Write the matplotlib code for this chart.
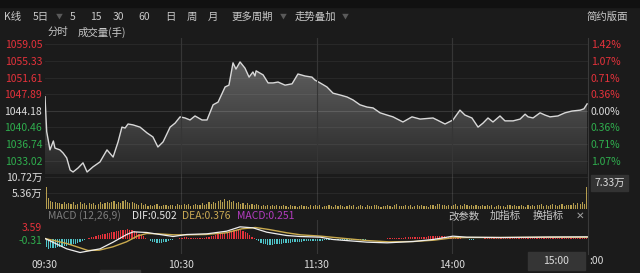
import numpy as np
import matplotlib
matplotlib.use("Agg")
import matplotlib.pyplot as plt
from matplotlib.patches import Rectangle, Polygon

plt.rcParams['font.family'] = ['Noto Sans CJK SC', 'DejaVu Sans']

# ── data ──────────────────────────────────────────────────────────────────────
PRE_CLOSE = 1044.18
price_ticks = [1033.02, 1036.74, 1040.46, 1044.18, 1047.89, 1051.61, 1055.33, 1059.05]
pct_labels  = ["1.07%", "0.71%", "0.36%", "0.00%", "0.36%", "0.71%", "1.07%", "1.42%"]

# minutes since 09:30 (lunch break removed) and index level
price_min = [0, 0.75, 2.2, 3.7, 4.4, 6.6, 8.0, 9.6, 11.1, 12.4, 14.6, 16.8, 18.6, 21.2,
             24.3, 27.4, 30.1, 32.3, 34.0, 35.4, 36.7, 38.9, 42.0, 45.1, 47.7, 49.9,
             52.2, 55.3, 57.5, 59.7, 61.9, 64.1, 66.3, 69.4, 71.6, 74.3, 76.5, 79.6,
             81.3, 83.1, 84.4, 86.2, 88.4, 90.2, 91.9, 92.8, 93.3, 96.4, 98.6, 100.8,
             103.0, 106.1, 109.2, 111.8, 114.9, 118.0, 119.3, 121.6, 124.6, 127.3,
             130.4, 133.5, 136.1, 139.2, 142.3, 145.0, 148.1, 151.2, 153.8, 158.2,
             162.2, 165.8, 171.5, 173.3, 176.8, 180.3, 183.4, 185.6, 188.7, 191.4,
             193.6, 195.8, 198.0, 201.1, 203.3, 206.9, 210.0, 212.2, 213.5, 215.7,
             218.8, 221.0, 223.2, 226.7, 229.8, 232.9, 236.5, 238.2, 239.6]
price_val = [1047.3, 1039.5, 1035.4, 1037.4, 1035.8, 1035.4, 1034.7, 1033.6, 1030.9,
             1030.45, 1031.35, 1032.5, 1030.45, 1031.6, 1032.7, 1035.4, 1033.8, 1037.2,
             1040.5, 1040.3, 1041.2, 1041.0, 1040.5, 1039.2, 1038.3, 1036.05, 1037.2,
             1040.5, 1041.4, 1042.8, 1042.55, 1042.1, 1043.0, 1042.1, 1042.1, 1045.5,
             1046.1, 1049.5, 1049.9, 1054.9, 1053.5, 1055.1, 1053.7, 1051.7, 1052.85,
             1051.95, 1053.1, 1052.2, 1050.4, 1050.4, 1050.6, 1049.9, 1050.2, 1052.4,
             1051.95, 1051.7, 1051.05, 1050.4, 1049.5, 1048.1, 1047.7, 1047.25, 1046.6,
             1045.5, 1045.0, 1044.8, 1043.7, 1043.2, 1042.8, 1041.65, 1042.8, 1042.3,
             1042.55, 1042.1, 1041.2, 1042.1, 1044.3, 1043.2, 1042.55, 1040.5, 1041.4,
             1042.55, 1041.65, 1043.0, 1041.9, 1041.9, 1042.3, 1043.4, 1042.8, 1042.55,
             1043.7, 1043.2, 1042.8, 1043.0, 1043.7, 1044.1, 1044.3, 1044.6, 1045.7]

# volume per minute, 万手
volume = [7.3, 3.6, 2.6, 2.2, 2.4, 1.9, 2.1, 1.8, 2.3, 1.6, 2.0, 1.7, 2.2, 1.5, 1.8, 2.4, 1.6, 1.9, 1.4, 2.0,
          1.7, 2.1, 1.5, 1.8, 2.3, 1.6, 2.0, 2.5, 1.9, 2.2, 2.8, 1.8, 2.4, 2.0, 2.6, 2.9, 2.2, 1.9, 2.5, 2.1,
          1.8, 1.5, 1.9, 1.2, 1.6, 1.1, 1.4, 1.0, 1.3, 1.6, 1.1, 0.9, 1.4, 1.2, 1.0, 1.5, 1.3, 1.1, 1.7, 1.2,
          1.5, 1.8, 1.3, 1.6, 1.1, 1.4, 1.7, 1.2, 1.5, 1.9, 1.3, 1.6, 2.2, 1.7, 2.5, 2.0, 2.8, 3.1, 2.4, 3.3,
          2.6, 3.0, 2.2, 2.7, 1.9, 2.4, 1.8, 2.1, 1.5, 1.9, 1.4, 1.7, 1.2, 1.6, 1.3, 1.0, 1.4, 1.1, 1.2, 0.9,
          1.3, 1.0, 1.2, 0.9, 1.1, 1.4, 1.0, 0.8, 1.2, 0.9, 1.1, 0.8, 1.0, 1.3, 0.9, 1.1, 0.8, 1.2, 1.0, 1.4,
          1.0, 1.3, 0.8, 1.1, 0.9, 1.4, 1.0, 0.8, 1.2, 0.9, 1.5, 1.1, 0.8, 1.0, 1.3, 0.9, 1.2, 0.8, 1.1, 1.4,
          1.0, 0.8, 1.3, 1.1, 0.9, 1.2, 1.5, 1.0, 0.8, 1.1, 0.9, 1.3, 1.0, 0.8, 1.2, 1.6, 1.1, 0.9, 1.0, 1.3,
          0.9, 1.2, 0.8, 1.1, 1.5, 1.0, 1.3, 0.9, 1.1, 0.8, 1.2, 1.4, 1.0, 1.6, 1.8, 1.2, 1.5, 1.1, 1.3, 0.9,
          1.2, 1.6, 1.0, 1.4, 1.1, 1.7, 1.3, 0.9, 1.2, 1.0, 1.5, 1.1, 0.9, 1.3, 1.0, 1.4, 1.1, 1.2, 0.8, 1.0,
          1.3, 0.9, 1.1, 0.8, 1.2, 1.5, 1.0, 1.3, 0.9, 1.1, 1.4, 1.0, 0.8, 1.2, 1.1, 1.5, 1.0, 1.3, 1.2, 1.6,
          1.1, 1.4, 1.0, 1.3, 1.6, 1.2, 1.0, 1.4, 1.7, 1.1, 1.3, 1.5, 1.2, 1.9, 1.4, 2.1, 1.6, 2.3, 1.8, 7.33]
vol_ticks = [5.36, 10.72]

# MACD histogram per minute
macd_hist = [-2.6, -3.0, -2.9, -2.8, -2.7, -2.6, -2.5, -2.4, -2.3, -2.2, -2.0, -1.9, -1.7, -1.5, -1.3, -1.1, -0.8, -0.5, -0.2, 0.2,
             0.4, 0.6, 0.8, 1.0, 1.1, 1.3, 1.5, 1.6, 1.8, 1.9, 2.0, 2.2, 2.3, 2.5, 2.6, 2.7, 2.8, 2.7, 2.5, 2.2,
             1.9, 1.5, 1.1, 0.7, 0.3, -0.2, -0.6, -0.9, -1.1, -1.3, -1.3, -1.2, -1.0, -0.9, -0.7, -0.5, -0.4, -0.2, -0.1, 0.1,
             0.3, 0.4, 0.4, 0.3, 0.3, 0.2, 0.2, 0.1, 0.2, 0.3, 0.3, 0.4, 0.5, 0.7, 0.9, 1.1, 1.3, 1.5, 1.6, 1.8,
             2.0, 2.2, 2.4, 2.6, 2.7, 2.7, 2.6, 2.4, 2.0, 1.6, 1.1, 0.6, 0.1, -0.4, -0.8, -1.2, -1.5, -1.7, -1.8, -1.8,
             -1.8, -1.7, -1.7, -1.6, -1.5, -1.4, -1.3, -1.3, -1.2, -1.1, -1.0, -1.0, -0.9, -0.9, -0.8, -0.8, -0.7, -0.7, -0.7, -0.6,
             -0.6, -0.6, -0.6, -0.5, -0.5, -0.5, -0.5, -0.5, -0.5, -0.4, -0.4, -0.4, -0.4, -0.4, -0.4, -0.3, -0.3, -0.3, -0.3, -0.3,
             -0.3, -0.3, -0.2, -0.2, -0.2, -0.2, -0.2, -0.1, -0.1, -0.1, -0.1, 0.1, 0.1, 0.2, 0.2, 0.2, 0.3, 0.3, 0.3, 0.4,
             0.4, 0.4, 0.4, 0.5, 0.5, 0.5, 0.6, 0.6, 0.6, 0.7, 0.7, 0.7, 0.8, 0.8, 0.8, 0.8, 0.7, 0.6, 0.6, 0.5,
             0.4, 0.3, 0.2, 0.1, -0.1, -0.2, -0.2, -0.3, -0.3, -0.3, -0.2, -0.2, -0.1, -0.1, 0.1, 0.1, 0.1, 0.1, 0.1, 0.1,
             0.1, 0.1, 0.1, 0.1, 0.1, 0.2, 0.2, 0.2, 0.2, 0.2, 0.2, 0.2, 0.2, 0.2, 0.2, 0.2, 0.2, 0.2, 0.2, 0.2,
             0.2, 0.2, 0.2, 0.2, 0.2, 0.2, 0.2, 0.2, 0.2, 0.2, 0.2, 0.2, 0.2, 0.2, 0.2, 0.3, 0.3, 0.3, 0.3, 0.251]

dif_min = [0, 9.6, 15.5, 24.3, 30.1, 36.1, 39.0, 45.0, 50.8, 56.6, 62.6, 71.5, 80.3, 86.2,
           91.9, 98.0, 106.8, 112.7, 121.6, 127.3, 142.3, 151.2, 162.7, 171.5, 180.3,
           186.5, 201.1, 223.2, 240]
dif_val = [0.0, -3.1, -4.2, -3.1, -1.1, 1.2, 2.0, 1.8, 1.2, 0.6, 1.2, 1.4, 2.2, 3.5,
           3.2, 1.9, 0.9, 0.6, 0.4, -0.3, -1.1, -1.3, -0.9, -0.3, 0.7, 0.4, 0.3, 0.45, 0.502]
dea_min = [0, 9.6, 15.5, 19.0, 24.0, 30.0, 36.0, 41.0, 45.0, 50.0, 57.0, 63.0, 71.0, 80.0,
           87.0, 93.0, 99.0, 107.0, 113.0, 122.0, 128.0, 142.0, 152.0, 163.0, 172.0,
           180.0, 187.0, 201.0, 223.0, 240]
dea_val = [0.0, -1.5, -2.8, -3.6, -3.5, -2.5, -1.0, 0.8, 1.5, 1.4, 1.1, 1.1, 1.2, 1.7,
           2.9, 3.3, 2.7, 1.7, 1.1, 0.7, 0.3, -0.6, -1.0, -0.9, -0.5, 0.2, 0.3, 0.3, 0.38, 0.376]
macd_ticks = [-0.31, 3.59]

time_ticks  = [0, 60, 120, 180]
time_labels = ["09:30", "10:30", "11:30", "14:00"]

# ── style ─────────────────────────────────────────────────────────────────────
BG    = "#1b1b1b"
VGRID = "#363636"
RED   = "#e5323b"
GREEN = "#2fae4e"
WHITE = "#dcdcdc"
GOLD  = "#b59d4e"
CYAN  = "#4fc4c8"
FS    = 7.5

W, H = 640, 273
fig = plt.figure(figsize=(W / 100, H / 100), dpi=100, facecolor=BG)


def rect(x0, y0, x1, y1):
    return [x0 / W, 1 - y1 / H, (x1 - x0) / W, (y1 - y0) / H]


def style(ax):
    ax.set_facecolor("none")
    for s in ax.spines.values():
        s.set_visible(False)
    ax.tick_params(length=0, labelsize=FS, pad=2)
    ax.set_xlim(0, 240)
    for m in time_ticks[1:]:
        ax.axvline(m, color=VGRID, lw=0.8, zorder=0)
    ax.set_xticks([])


# top toolbar
fig.patches.append(Rectangle((0, 1 - 7 / H), 1, 7 / H, transform=fig.transFigure,
                             color="#111111", zorder=0))
toolbar = [("K线", 4), ("5日", 33), ("5", 70), ("15", 90), ("30", 113), ("60", 138),
           ("日", 165), ("周", 187), ("月", 208), ("更多周期", 232), ("走势叠加", 295)]
for t, x in toolbar:
    fig.text(x / W, 1 - 17 / H, t, color="#c9c9c9", fontsize=FS, va="center")
for x in (59, 283, 345):
    fig.text(x / W, 1 - 17 / H, "▼", color="#5a5a5a", fontsize=5, va="center", ha="center")
fig.text(628 / W, 1 - 17 / H, "简约版面", color="#c9c9c9", fontsize=FS, va="center", ha="right")
fig.text(48 / W, 1 - 32 / H, "分时", color="#c9c9c9", fontsize=FS, va="center")
fig.text(78 / W, 1 - 32 / H, "成交量(手)", color="#c9c9c9", fontsize=FS, va="center")

# ── price panel ───────────────────────────────────────────────────────────────
ax = fig.add_axes(rect(45, 38, 588, 174))
style(ax)
lo, hi = 1030.0, 1060.46
ax.set_ylim(lo, hi)
for p in price_ticks:
    ax.axhline(p, color="#ffffff", alpha=0.13 if p == PRE_CLOSE else 0.06, lw=0.8, zorder=3)

grad = np.linspace(0, 1, 256).reshape(-1, 1)
img = ax.imshow(grad, extent=[0, 240, lo, hi], origin="lower", aspect="auto",
                cmap=matplotlib.colors.LinearSegmentedColormap.from_list(
                    "g", ["#262626", "#4a4a4a", "#6a6a6a"]), zorder=1)
poly = Polygon(list(zip(price_min, price_val)) + [(price_min[-1], lo), (0, lo)],
               closed=True, transform=ax.transData)
img.set_clip_path(poly)
ax.plot(price_min, price_val, color="#d8d8d8", lw=1.0, zorder=4)

price_colors = [GREEN] * 3 + [WHITE] + [RED] * 4
ax.set_yticks(price_ticks)
ax.set_yticklabels([f"{p:.2f}" for p in price_ticks])
for lab, c in zip(ax.get_yticklabels(), price_colors):
    lab.set_color(c)
axr = ax.twinx()
style(axr)
axr.set_ylim(lo, hi)
axr.set_yticks(price_ticks)
axr.set_yticklabels(pct_labels)
for lab, c in zip(axr.get_yticklabels(), price_colors):
    lab.set_color(c)

# ── volume panel ──────────────────────────────────────────────────────────────
axv = fig.add_axes(rect(45, 174, 588, 209))
style(axv)
axv.set_ylim(0, 35 * 0.335)
minutes = np.arange(len(volume)) + 0.5
axv.bar(minutes, volume, width=0.5, color=GOLD, zorder=2)
for v in vol_ticks:
    axv.axhline(v, color="#ffffff", alpha=0.06, lw=0.8, zorder=1)
axv.set_yticks(vol_ticks)
axv.set_yticklabels([f"{v:.2f}万" for v in vol_ticks], color=WHITE)
fig.patches.append(Rectangle((591 / W, 1 - 191 / H), 37 / W, 16 / H,
                             transform=fig.transFigure, color="#333333", zorder=1))
fig.text(610 / W, 1 - 183 / H, f"{volume[-1]:.2f}万", color=WHITE, fontsize=FS,
         ha="center", va="center", zorder=2)

# ── MACD panel ────────────────────────────────────────────────────────────────
y0 = 216
fig.text(48 / W, 1 - y0 / H, "MACD (12,26,9)", color="#7d7d7d", fontsize=FS, va="center")
fig.text(132 / W, 1 - y0 / H, f"DIF:{dif_val[-1]:.3f}", color="#e6e6e6", fontsize=FS, va="center")
fig.text(182 / W, 1 - y0 / H, f"DEA:{dea_val[-1]:.3f}", color="#c8a853", fontsize=FS, va="center")
fig.text(237 / W, 1 - y0 / H, f"MACD:{macd_hist[-1]:.3f}", color="#b43cc0", fontsize=FS, va="center")
for t, x in [("改参数", 448), ("加指标", 490), ("换指标", 533)]:
    fig.text(x / W, 1 - y0 / H, t, color="#c9c9c9", fontsize=FS, va="center")
fig.text(580 / W, 1 - y0 / H, "✕", color="#a0a0a0", fontsize=FS, va="center", ha="center",
         family="DejaVu Sans")

axm = fig.add_axes(rect(45, 220, 588, 254))
style(axm)
axm.set_ylim(-15.5 * 0.3, 18.5 * 0.3)
hist = np.array(macd_hist)
axm.bar(minutes, hist, width=0.55, color=np.where(hist >= 0, RED, CYAN), zorder=2)
axm.plot(dea_min, dea_val, color="#c9aa4e", lw=1.0, zorder=3)
axm.plot(dif_min, dif_val, color="#eeeeee", lw=0.9, zorder=4)
axm.set_yticks(macd_ticks)
axm.set_yticklabels([f"{v:.2f}" for v in macd_ticks])
for lab, c in zip(axm.get_yticklabels(), [GREEN, RED]):
    lab.set_color(c)
axm.set_xticks(time_ticks)
axm.set_xticklabels(time_labels, color=WHITE)
axm.tick_params(axis="x", pad=4)

fig.patches.append(Rectangle((528 / W, 1 - 270 / H), 57 / W, 18 / H,
                             transform=fig.transFigure, color="#353535", zorder=1))
fig.text(556 / W, 1 - 261 / H, "15:00", color=WHITE, fontsize=FS, ha="center", va="center")
fig.text(596 / W, 1 - 261 / H, ":00", color=WHITE, fontsize=FS, ha="center", va="center")
fig.patches.append(Rectangle((100 / W, 0), 40 / W, 3 / H, transform=fig.transFigure,
                             color="#3a3a3a", zorder=1))

# right separator
fig.add_artist(plt.Line2D([588 / W, 588 / W], [1 - 254 / H, 1 - 38 / H],
                          color="#3a3a3a", lw=0.8, transform=fig.transFigure))

fig.savefig("out.png", dpi=100, facecolor=BG)
